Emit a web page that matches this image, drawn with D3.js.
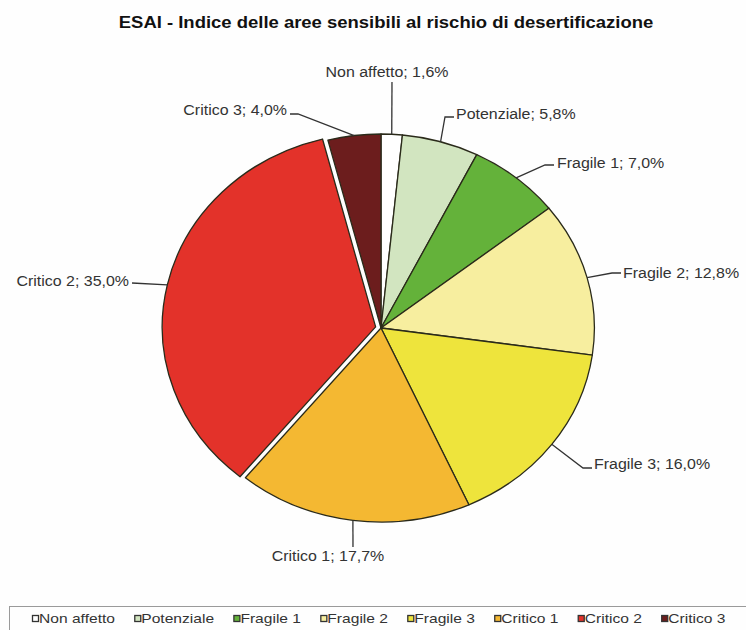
<!DOCTYPE html>
<html><head><meta charset="utf-8">
<script src="https://cdn.jsdelivr.net/npm/d3@7"></script>
<style>body{margin:0;background:#fff}svg{display:block}</style>
</head><body>
<svg id="chart" width="746" height="630"></svg>
<script>
// ---- data ----
const title = "ESAI - Indice delle aree sensibili al rischio di desertificazione";
const categories = ["Non affetto","Potenziale","Fragile 1","Fragile 2","Fragile 3","Critico 1","Critico 2","Critico 3"];
const values = [1.6, 5.8, 7.0, 12.8, 16.0, 17.7, 35.0, 4.0];
const valueLabels = ["1,6%","5,8%","7,0%","12,8%","16,0%","17,7%","35,0%","4,0%"];
const colors = ["#ffffff","#d2e5c0","#64b23a","#f7ee9f","#eee43c","#f4b832","#e3322a","#6c1d1d"];
const explode = [0,0,0,0,0,0,5,0];

// ---- layout (screen coordinates of labels) ----
const labelLayout = [
  {tx:387, ty:77,  anchor:"middle", elbow:null,      end:[392,82]},
  {tx:456, ty:119, anchor:"start",  elbow:[445,117], end:[454,117]},
  {tx:557, ty:168, anchor:"start",  elbow:[545,165], end:[554,165]},
  {tx:623, ty:278, anchor:"start",  elbow:[612,273], end:[621,273]},
  {tx:594, ty:469, anchor:"start",  elbow:[583,468], end:[592,468]},
  {tx:328, ty:561, anchor:"middle", elbow:null,      end:[353,547]},
  {tx:129, ty:286, anchor:"end",    elbow:null,      end:[132,283]},
  {tx:287, ty:115, anchor:"end",    elbow:[298,114], end:[290,114]}
];

const svg = d3.select("#chart");
const W = 746, H = 630;
const cx = 381, cy = 328, r = 194, sx = 1.1;
const font = "'Liberation Sans', Arial, sans-serif";

svg.append("rect").attr("width", W).attr("height", H).attr("fill", "#fefefe");

// title
svg.append("text")
  .attr("transform", `translate(386,28) scale(${sx},1)`)
  .attr("text-anchor", "middle")
  .attr("font-family", font).attr("font-weight", "bold").attr("font-size", 16.8)
  .attr("fill", "#111")
  .text(title);

const data = categories.map((c, i) => ({cat: c, value: values[i], label: valueLabels[i], color: colors[i], ex: explode[i], lay: labelLayout[i]}));

const pie = d3.pie().value(d => d.value).sort(null);
const arcs = pie(data);
const arc = d3.arc().innerRadius(0).outerRadius(r);

const g = svg.append("g").attr("transform", `translate(${cx},${cy}) scale(${sx},1)`);
g.selectAll("path").data(arcs).join("path")
  .attr("d", arc)
  .attr("transform", d => {
    const a = (d.startAngle + d.endAngle) / 2;
    return `translate(${d.data.ex * Math.sin(a)},${-d.data.ex * Math.cos(a)})`;
  })
  .attr("fill", d => d.data.color)
  .attr("stroke", "#2a2a1a")
  .attr("stroke-width", 1.3)
  .attr("stroke-linejoin", "round")
  .attr("vector-effect", "non-scaling-stroke");

// leaders & labels
arcs.forEach(d => {
  const a = (d.startAngle + d.endAngle) / 2;
  const ex = d.data.ex;
  const px = cx + sx * (r + ex) * Math.sin(a);
  const py = cy - (r + ex) * Math.cos(a);
  const L = d.data.lay;
  const pts = [[px, py]];
  if (L.elbow) pts.push(L.elbow);
  pts.push(L.end);
  svg.append("path")
    .attr("d", d3.line()(pts))
    .attr("fill", "none")
    .attr("stroke", "#333")
    .attr("stroke-width", 1.3);
  svg.append("text")
    .attr("transform", `translate(${L.tx},${L.ty}) scale(${sx},1)`)
    .attr("text-anchor", L.anchor)
    .attr("font-family", font).attr("font-size", 14.5)
    .attr("fill", "#333")
    .text(`${d.data.cat}; ${d.data.label}`);
});

// legend
svg.append("rect").attr("x", 9.5).attr("y", 606.5).attr("width", 760).attr("height", 40)
  .attr("fill", "#fefefe").attr("stroke", "#9a9a9a").attr("stroke-width", 1);
const lsx = 1.3, lgap = 19.3;
let lx = 32;
categories.forEach((c, i) => {
  svg.append("rect").attr("x", lx + 0.5).attr("y", 615.5).attr("width", 6).attr("height", 6)
    .attr("fill", colors[i]).attr("stroke", "#333").attr("stroke-width", 1.3);
  const t = svg.append("text")
    .attr("transform", `translate(${lx + 7},623) scale(${lsx},1)`)
    .attr("font-family", font).attr("font-size", 12).attr("fill", "#333")
    .text(c);
  const w = t.node().getComputedTextLength() * lsx;
  lx += 7 + w + lgap;
});
</script>
</body></html>
